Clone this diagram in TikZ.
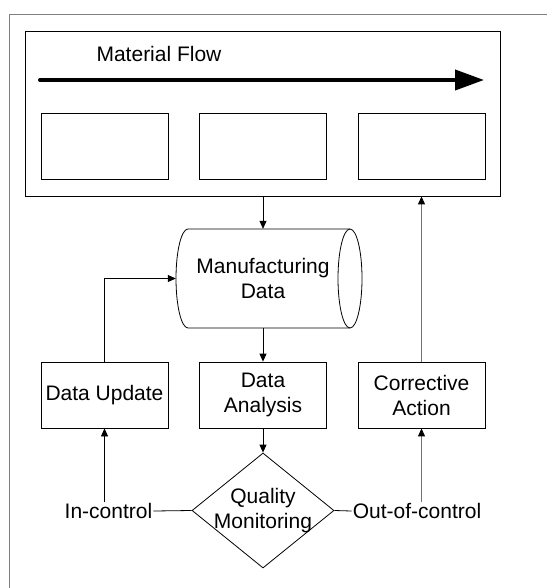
\documentclass[tikz,border=0pt]{standalone}
\usepackage{fontspec}
\setmainfont{Liberation Sans}
\usetikzlibrary{arrows.meta,shapes.geometric}
\begin{document}
\begin{tikzpicture}[x=1pt,y=-1pt,
  font=\fontsize{21}{25}\selectfont,
  every node/.style={align=center},
  boxnode/.style={draw,line width=0.8pt,minimum width=127pt,minimum height=66pt,inner sep=0pt},
  conn/.style={line width=0.8pt,-{Triangle[length=8pt,width=7pt]}},
  plain/.style={line width=0.8pt},
  grayconn/.style={line width=0.9pt,draw=black!55,-{Triangle[length=8pt,width=7pt,black]}},
  lbl/.style={inner sep=1pt}]
\useasboundingbox[fill=white] (0,0) rectangle (547,588);
% outer frame (only top and left visible)
\draw[black!50,line width=0.9pt] (9.5,588) -- (9.5,14) -- (547,14);
% top panel
\node[draw,line width=0.8pt,minimum width=475pt,minimum height=165pt,inner sep=0pt] (panel) at (262.5,113.5) {};
\node (mflabel) at (159,54) {Material Flow};
\coordinate (fstart) at (40,80);
\coordinate (fend) at (484,80);
\draw[line width=4pt,line cap=round,-{Triangle[length=29pt,width=20pt]}] (fstart) -- (fend);
\node[boxnode] (s1) at (104.5,146.5) {};
\node[boxnode] (s2) at (262.5,146.5) {};
\node[boxnode] (s3) at (421.5,146.5) {};
% manufacturing data drum
\node[minimum width=174pt,minimum height=99pt,inner sep=0pt] (md) at (263,278.5) {Manufacturing\\Data};
\draw[line width=0.8pt] (350,229) -- (188,229)
  arc[start angle=90,end angle=270,x radius=12pt,y radius=49.5pt] -- (350,328);
\draw[line width=0.8pt] (350,278.5) ellipse [x radius=12pt,y radius=49.5pt];
% middle row
\node[boxnode] (du) at (104.5,395) {Data Update};
\node[boxnode] (da) at (263,395) {Data\\Analysis};
\node[boxnode] (ca) at (421.5,395) {Corrective\\Action};
% decision
\node[diamond,draw,line width=0.8pt,minimum width=142pt,minimum height=115pt,inner sep=0pt] (qm) at (263,510.5) {};
\node (qmt) at (263,510.5) {Quality\\Monitoring};
\node[lbl] (inc) at (108.5,511) {In-control};
\node[lbl] (ooc) at (417,511) {Out-of-control};
% connectors
\draw[conn] (panel.south -| md.north) -- (md.north);
\draw[conn] (md.south) -- (da.north);
\draw[conn] (da.south) -- (qm.north);
\draw[conn] (du.north) |- (md.west);
\draw[plain] (inc.east) -- (qm.west);
\draw[plain] (qm.east) -- (ooc.west);
\draw[conn] (du.south |- inc.north) -- (du.south);
\draw[grayconn] (ca.south |- ooc.north) -- (ca.south);
\draw[grayconn] (ca.north) -- (ca.north |- panel.south);
\end{tikzpicture}
\end{document}
